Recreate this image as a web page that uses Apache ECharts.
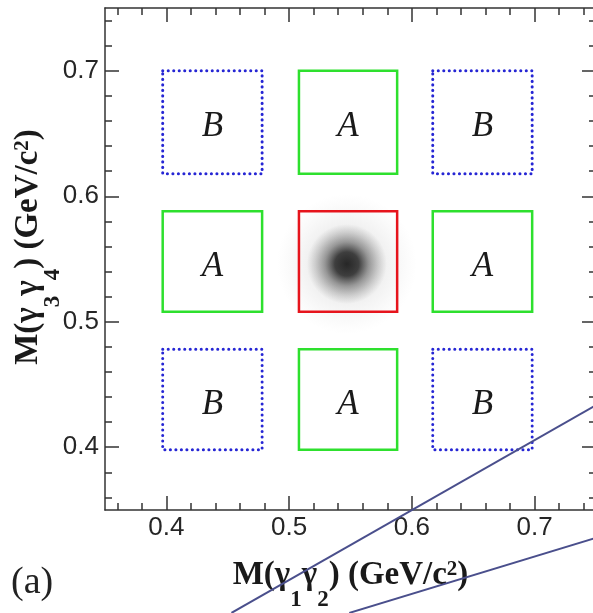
<!DOCTYPE html>
<html>
<head>
<meta charset="utf-8">
<script src="https://cdn.jsdelivr.net/npm/echarts@6/dist/echarts.min.js"></script>
<style>
html, body { margin: 0; padding: 0; background: #fff; }
#main { width: 593px; height: 613px; }
</style>
</head>
<body>
<div id="main"></div>
<script>
// axis range and ticks (same for both masses)
var axisMin = 0.35, axisMax = 0.75;
var majorTicks = [0.4, 0.5, 0.6, 0.7];
var minorTicks = [0.36, 0.38, 0.40, 0.42, 0.44, 0.46, 0.48, 0.50, 0.52, 0.54, 0.56,
                  0.58, 0.60, 0.62, 0.64, 0.66, 0.68, 0.70, 0.72, 0.74];

// selection windows: column edges in M(g1g2), row edges in M(g3g4)
var colEdges = [[0.397, 0.478], [0.508, 0.588], [0.617, 0.698]];
var rowEdges = [[0.618, 0.700], [0.508, 0.588], [0.398, 0.478]];
var regionType = [['B', 'A', 'B'], ['A', 'S', 'A'], ['B', 'A', 'B']];

// centre of the signal peak
var peak = [[0.547, 0.546]];

// the two guide lines drawn across the lower right
var guide1 = [[0.453, 0.268], [0.749, 0.433]];
var guide2 = [[0.549, 0.268], [0.749, 0.3275]];

var boxes = { A: [], B: [], S: [] };
for (var r = 0; r < 3; r++) {
  for (var c = 0; c < 3; c++) {
    var t = regionType[r][c];
    boxes[t].push([colEdges[c][0], colEdges[c][1], rowEdges[r][0], rowEdges[r][1], t === 'S' ? '' : t]);
  }
}

function boxRenderer(color, dash, width) {
  return function (params, api) {
    var tl = api.coord([api.value(0), api.value(3)]);
    var br = api.coord([api.value(1), api.value(2)]);
    var label = api.value(4);
    var children = [{
      type: 'rect',
      shape: { x: tl[0], y: tl[1], width: br[0] - tl[0], height: br[1] - tl[1] },
      style: { fill: 'none', stroke: color, lineWidth: width, lineDash: dash, lineCap: dash ? 'round' : 'butt' }
    }];
    if (label) {
      children.push({
        type: 'text',
        style: {
          text: label, x: (tl[0] + br[0]) / 2, y: (tl[1] + br[1]) / 2 + 5,
          align: 'center', verticalAlign: 'middle',
          fontFamily: 'Liberation Serif', fontStyle: 'italic', fontSize: 35, fill: '#1a1a1a'
        }
      });
    }
    return { type: 'group', children: children };
  };
}

var titleRich = {
  b: { fontFamily: 'Liberation Serif', fontWeight: 'bold', fontSize: 33, lineHeight: 36, verticalAlign: 'top', color: '#1a1a1a' },
  s: { fontFamily: 'Liberation Serif', fontWeight: 'bold', fontSize: 23, lineHeight: 23, padding: [30, 0, 0, 0], verticalAlign: 'top', color: '#1a1a1a' },
  p: { fontFamily: 'Liberation Serif', fontWeight: 'bold', fontSize: 21, lineHeight: 21, padding: [0, 0, 0, 0], verticalAlign: 'top', color: '#1a1a1a' }
};

var axisColor = '#333';
var labelStyle = { fontFamily: 'Liberation Sans', fontSize: 26, color: '#262626' };

function makeAxis(pos, major, showLine, withLabel, name) {
  var ax = {
    type: 'value', position: pos, min: axisMin, max: axisMax,
    splitLine: { show: false },
    axisLine: { show: showLine, lineStyle: { color: axisColor, width: 1.5 } },
    axisTick: {
      show: true, inside: true, length: major ? 14 : 7,
      customValues: major ? majorTicks : minorTicks,
      lineStyle: { color: axisColor, width: 1.5 }
    },
    axisLabel: withLabel ? Object.assign({ customValues: majorTicks, margin: pos === 'left' ? 6 : 5 }, labelStyle) : { show: false }
  };
  if (name) {
    ax.name = name;
    ax.nameLocation = 'middle';
    ax.nameMoveOverlap = false;
  }
  return ax;
}

var xMain = makeAxis('bottom', true, true, true, '{b|M(γ}{s|1}{b|γ}{s|2}{b|) (GeV/c}{p|2}{b|)}');
xMain.nameGap = 49;
xMain.nameTextStyle = { rich: titleRich };
var yMain = makeAxis('left', true, true, true, '{b|M(γ}{s|3}{b|γ}{s|4}{b|) (GeV/c}{p|2}{b|)}');
yMain.nameGap = 57;
yMain.nameRotate = 90;
yMain.nameTextStyle = { rich: titleRich, padding: [0, 0, 0, 24] };

var chart = echarts.init(document.getElementById('main'));
chart.setOption({
  animation: false,
  backgroundColor: '#fff',
  title: {
    text: '(a)', left: 11, top: 564, padding: 0,
    textStyle: { fontFamily: 'Liberation Serif', fontWeight: 'normal', fontSize: 38, color: '#222' }
  },
  grid: { left: 105, top: 8, right: -3, bottom: 103, outerBoundsMode: 'none' },
  xAxis: [
    xMain,
    makeAxis('bottom', false, false, false),
    makeAxis('top', true, true, false),
    makeAxis('top', false, false, false)
  ],
  yAxis: [
    yMain,
    makeAxis('left', false, false, false),
    makeAxis('right', true, true, false),
    makeAxis('right', false, false, false)
  ],
  series: [
    {
      type: 'scatter', data: peak, symbol: 'circle', symbolSize: 140, silent: true, z: 1,
      itemStyle: {
        color: new echarts.graphic.RadialGradient(0.5, 0.5, 0.5, [
          { offset: 0, color: 'rgba(60,60,60,0.4)' },
          { offset: 0.45, color: 'rgba(110,110,110,0.16)' },
          { offset: 1, color: 'rgba(160,160,160,0)' }
        ])
      }
    },
    {
      type: 'scatter', data: peak, symbol: 'circle', symbolSize: 80, silent: true, z: 2,
      itemStyle: {
        color: new echarts.graphic.RadialGradient(0.5, 0.5, 0.5, [
          { offset: 0, color: 'rgba(0,0,0,1)' },
          { offset: 0.3, color: 'rgba(5,5,5,0.9)' },
          { offset: 0.55, color: 'rgba(40,40,40,0.5)' },
          { offset: 1, color: 'rgba(90,90,90,0)' }
        ])
      }
    },
    { type: 'custom', data: boxes.B, renderItem: boxRenderer('#2626d4', [0.1, 5.4], 3), silent: true, z: 5 },
    { type: 'custom', data: boxes.A, renderItem: boxRenderer('#2ee02e', null, 2.5), silent: true, z: 5 },
    { type: 'custom', data: boxes.S, renderItem: boxRenderer('#e6141c', null, 2.5), silent: true, z: 6 },
    {
      type: 'line', data: guide1, clip: false, symbol: 'none', silent: true, z: 20,
      lineStyle: { color: '#4a4f8c', width: 2 }
    },
    {
      type: 'line', data: guide2, clip: false, symbol: 'none', silent: true, z: 20,
      lineStyle: { color: '#4a4f8c', width: 2 }
    }
  ]
});
</script>
</body>
</html>
